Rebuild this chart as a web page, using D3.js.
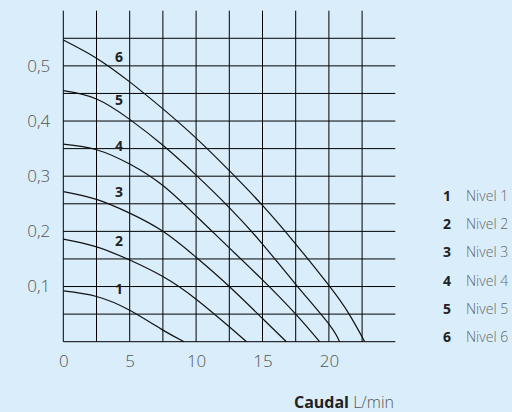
<!DOCTYPE html>
<html>
<head>
<meta charset="utf-8">
<script src="https://cdn.jsdelivr.net/npm/d3@7"></script>
<style>
  body { margin: 0; background: #d9eefa; }
  svg { display: block; font-family: "Open Sans", Lato, sans-serif; }
</style>
</head>
<body>
<div id="chart"></div>
<script>
// curve data (caudal in L/min, altura in bar)
var niveles = ["1", "2", "3", "4", "5", "6"]
var nombres = ["Nivel 1", "Nivel 2", "Nivel 3", "Nivel 4", "Nivel 5", "Nivel 6"]

var caudal1 = [0, 2.5, 5, 7.5, 9.1]
var altura1 = [0.092, 0.082, 0.057, 0.021, 0]
var caudal2 = [0, 2.5, 5, 7.5, 10, 12.5, 13.8]
var altura2 = [0.186, 0.172, 0.148, 0.118, 0.077, 0.027, 0]
var caudal3 = [0, 2.5, 5, 7.5, 10, 12.5, 15, 16.8]
var altura3 = [0.272, 0.258, 0.233, 0.2, 0.153, 0.1, 0.042, 0]
var caudal4 = [0, 2.5, 5, 7.5, 10, 12.5, 15, 17.5, 19.3]
var altura4 = [0.358, 0.348, 0.322, 0.283, 0.228, 0.17, 0.112, 0.05, 0]
var caudal5 = [0, 2.5, 5, 7.5, 10, 12.5, 15, 17.5, 20, 20.8]
var altura5 = [0.455, 0.44, 0.403, 0.356, 0.302, 0.243, 0.177, 0.104, 0.032, 0]
var caudal6 = [0, 2.5, 5, 7.5, 10, 12.5, 15, 17.5, 20, 21.5, 22.7]
var altura6 = [0.547, 0.514, 0.471, 0.422, 0.369, 0.31, 0.247, 0.177, 0.102, 0.051, 0]

// where the little numbers sit on the grid
var etiquetaCaudal = 4.2
var etiquetaAltura = [0.096, 0.183, 0.271, 0.355, 0.438, 0.516]

var xTicks = [0, 5, 10, 15, 20]
var yTicks = [0.1, 0.2, 0.3, 0.4, 0.5]
var xGrid = d3.range(0, 22.6, 2.5)
var yGrid = d3.range(0.05, 0.56, 0.05)

var caudales = [caudal1, caudal2, caudal3, caudal4, caudal5, caudal6]
var alturas = [altura1, altura2, altura3, altura4, altura5, altura6]

var width = 512,
    height = 412

var x = d3.scaleLinear().domain([0, 25]).range([63.3, 395.3])
var y = d3.scaleLinear().domain([0, 0.6]).range([341.7, 10.7])

var svg = d3.select("#chart")
  .append("svg")
    .attr("width", width)
    .attr("height", height)

// grid
svg.selectAll("line.v")
  .data(xGrid)
  .enter()
  .append("line")
    .attr("x1", d => x(d)).attr("x2", d => x(d))
    .attr("y1", y(0)).attr("y2", y(0.6))
    .attr("stroke", "#000")
    .attr("stroke-width", 1)

svg.selectAll("line.h")
  .data(yGrid.concat([0]))
  .enter()
  .append("line")
    .attr("x1", x(0)).attr("x2", x(25))
    .attr("y1", d => y(d)).attr("y2", d => y(d))
    .attr("stroke", "#000")
    .attr("stroke-width", 1)

// axes labels (no domain line, grid already draws it)
var fmt = d3.format(".1f")

var xAxis = svg.append("g")
  .attr("transform", "translate(0," + y(0) + ")")
  .call(d3.axisBottom(x).tickValues(xTicks).tickSize(0).tickPadding(13))
xAxis.select(".domain").remove()
xAxis.selectAll("text")
  .attr("font-family", "'Open Sans', sans-serif")
  .attr("font-weight", 300)
  .attr("font-size", 17)
  .attr("fill", "#555")

var yAxis = svg.append("g")
  .attr("transform", "translate(" + x(0) + ",0)")
  .call(d3.axisLeft(y).tickValues(yTicks).tickSize(0).tickPadding(13)
    .tickFormat(d => fmt(d).replace(".", ",")))
yAxis.select(".domain").remove()
yAxis.selectAll("text")
  .attr("font-family", "'Open Sans', sans-serif")
  .attr("font-weight", 300)
  .attr("font-size", 17)
  .attr("fill", "#555")

// curves
var line = d3.line()
  .x(d => x(d[0]))
  .y(d => y(d[1]))
  .curve(d3.curveNatural)

svg.selectAll("path.curva")
  .data(niveles)
  .enter()
  .append("path")
    .attr("class", "curva")
    .attr("d", (d, i) => line(d3.zip(caudales[i], alturas[i])))
    .attr("fill", "none")
    .attr("stroke", "#111")
    .attr("stroke-width", 1.2)

// numbers on the curves
svg.selectAll("text.num")
  .data(niveles)
  .enter()
  .append("text")
    .attr("x", x(etiquetaCaudal))
    .attr("y", (d, i) => y(etiquetaAltura[i]))
    .attr("dy", "0.36em")
    .attr("text-anchor", "middle")
    .attr("font-size", 14)
    .attr("font-weight", 700)
    .attr("fill", "#222")
    .text(d => d)

// x title
var titulo = svg.append("text")
  .attr("x", 394)
  .attr("y", 408)
  .attr("text-anchor", "end")
  .attr("font-size", 16)
  .attr("fill", "#222")
titulo.append("tspan").attr("font-weight", 700).text("Caudal")
titulo.append("tspan").attr("font-weight", 300).attr("fill", "#555").text(" L/min")

// legend
var legend = svg.selectAll("g.ley")
  .data(niveles)
  .enter()
  .append("g")
    .attr("transform", (d, i) => "translate(0," + (196 + i * 28.2) + ")")

legend.append("text")
  .attr("x", 451)
  .attr("dy", "0.36em")
  .attr("text-anchor", "end")
  .attr("font-size", 14)
  .attr("font-weight", 700)
  .attr("fill", "#222")
  .text(d => d)

legend.append("text")
  .attr("x", 466)
  .attr("dy", "0.36em")
  .attr("font-size", 14)
  .attr("font-weight", 300)
  .attr("fill", "#666")
  .text((d, i) => nombres[i])
</script>
</body>
</html>
